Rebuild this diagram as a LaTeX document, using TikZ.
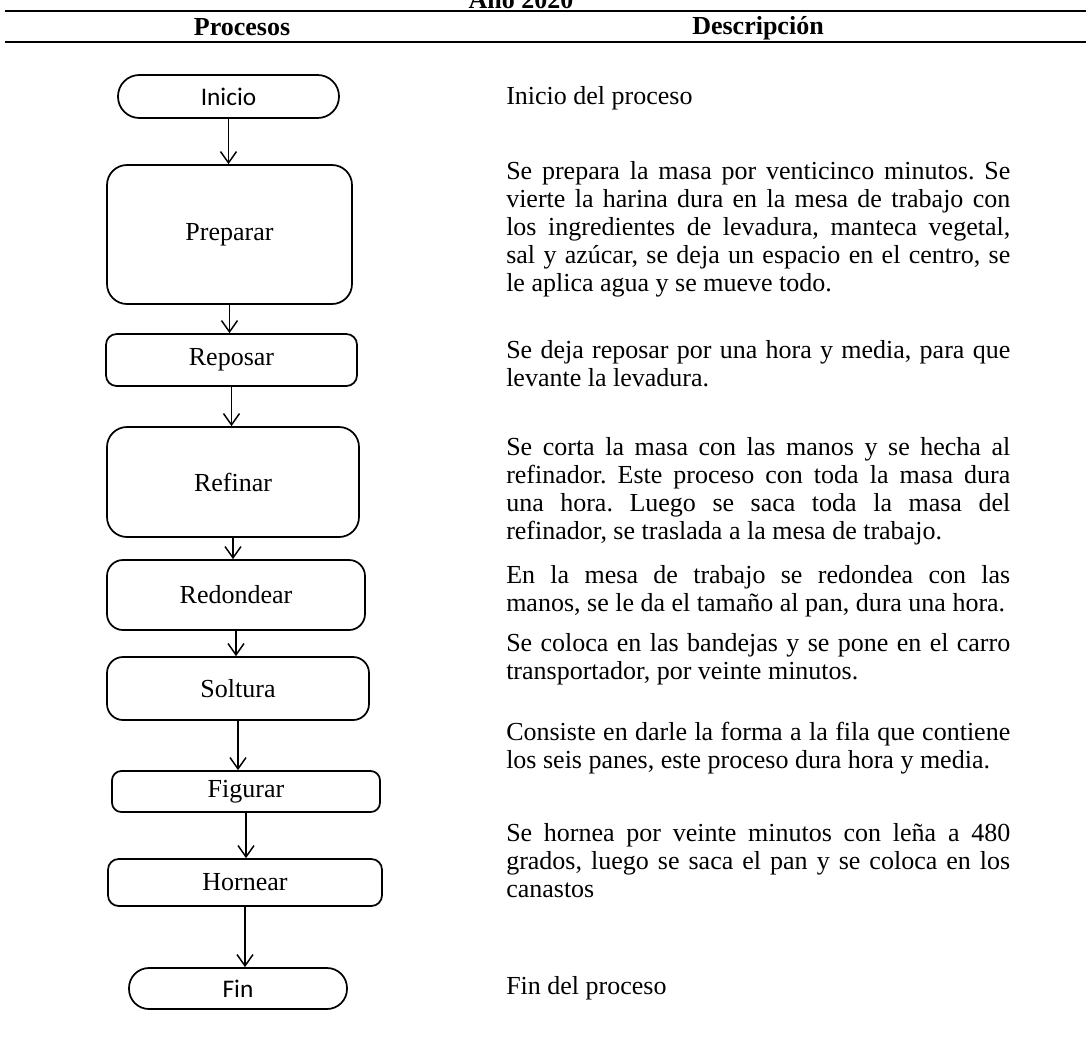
\documentclass[tikz,border=0pt]{standalone}
\usepackage{fontspec}
\setmainfont{Liberation Serif}
\newfontfamily\calibri{Carlito}
\usetikzlibrary{arrows.meta}
\frenchspacing
\newlength{\descw}
\setlength{\descw}{378pt}
\newcommand{\jline}[1]{\hbox to \hsize{#1}}
\newcommand{\fline}[1]{\hbox{#1}}
\newcommand{\desc}[1]{\vtop{\hsize=\descw\baselineskip=21pt\lineskiplimit=-20pt\relax #1}}

\begin{document}
\begin{tikzpicture}[x=0.75pt,y=0.75pt,yscale=-1,xscale=1,
  font=\fontsize{19.5}{21}\selectfont,
  proc/.style={draw, line width=1.3pt, inner sep=0pt, align=center},
  term/.style={proc, font=\calibri\fontsize{19}{21}\selectfont},
  arr/.style={line width=1.1pt, -{Straight Barb[length=8.5pt,width=12pt,line width=1.1pt]}},
  head/.style={inner sep=0pt, font=\bfseries\fontsize{19.5}{21}\selectfont},
  txt/.style={anchor=base west, inner sep=0pt}]
\useasboundingbox (0,0) rectangle (1086,1036);
\clip (0,0) rectangle (1086,1036);

%Header
\node[head, anchor=base] (anio) at (521,8) {Año 2020};
\draw [line width=1.4pt] (5,11) -- (1086,11) ;
\draw [line width=2pt] (5,42) -- (1086,42) ;
\node[head] (hproc) at (242,27) {Procesos};
\node[head] (hdesc) at (758,28) {Descripción};

%Shape: Terminal
\node[term, minimum width=165.75pt, minimum height=32.25pt, rounded corners=16pt] (ini) at (228.5,96.5) {Inicio};
%Shape: Rounded Rectangle
\node[proc, minimum width=183.75pt, minimum height=104.25pt, rounded corners=15pt] (prep) at (229.5,234.5) {Preparar};
%Shape: Rounded Rectangle
\node[proc, minimum width=188.25pt, minimum height=39pt, rounded corners=8pt] (repo) at (231.5,360) {Reposar};
%Shape: Rounded Rectangle
\node[proc, minimum width=189pt, minimum height=82.5pt, rounded corners=15pt] (refi) at (233,482) {Refinar};
%Shape: Rounded Rectangle
\node[proc, minimum width=193.5pt, minimum height=52.5pt, rounded corners=12pt] (redo) at (236,595) {Redondear};
%Shape: Rounded Rectangle
\node[proc, minimum width=196.5pt, minimum height=47.25pt, rounded corners=12pt] (solt) at (238,688.5) {Soltura};
%Shape: Rounded Rectangle
\node[proc, minimum width=201pt, minimum height=30.75pt, rounded corners=7pt] (figu) at (246,791.5) {Figurar};
%Shape: Rounded Rectangle
\node[proc, minimum width=205.5pt, minimum height=35.25pt, rounded corners=8pt] (horn) at (245,882.5) {Hornear};
%Shape: Terminal
\node[term, minimum width=163.5pt, minimum height=30.75pt, rounded corners=15pt] (fin) at (238,988.5) {Fin};

%Straight Lines
\draw[arr] (ini.south) -- (ini.south |- prep.north);
\draw[arr] (prep.south) -- (prep.south |- repo.north);
\draw[arr] (repo.south) -- (repo.south |- refi.north);
\draw[arr] (refi.south) -- (refi.south |- redo.north);
\draw[arr] (redo.south) -- (redo.south |- solt.north);
\draw[arr] (solt.south) -- (solt.south |- figu.north);
\draw[arr] (figu.south) -- (figu.south |- horn.north);
\draw[arr] (horn.south) -- (horn.south |- fin.north);

% Text Node
\node[txt] (dini) at (506,104) {Inicio del proceso};
% Text Node
\node[txt] (dprep) at (506,179) {\desc{%
\jline{Se prepara la masa por venticinco minutos. Se}
\jline{vierte la harina dura en la mesa de trabajo con}
\jline{los ingredientes de levadura, manteca vegetal,}
\jline{sal y azúcar, se deja un espacio en el centro, se}
\fline{le aplica agua y se mueve todo.}}};
% Text Node
\node[txt] (drepo) at (506,358) {\desc{%
\jline{Se deja reposar por una hora y media, para que}
\fline{levante la levadura.}}};
% Text Node
\node[txt] (drefi) at (506,455) {\desc{%
\jline{Se corta la masa con las manos y se hecha al}
\jline{refinador. Este proceso con toda la masa dura}
\jline{una hora. Luego se saca toda la masa del}
\fline{refinador, se traslada a la mesa de trabajo.}}};
% Text Node
\node[txt] (dredo) at (506,583) {\desc{%
\jline{En la mesa de trabajo se redondea con las}
\fline{manos, se le da el tamaño al pan, dura una hora.}}};
% Text Node
\node[txt] (dsolt) at (506,651) {\desc{%
\jline{Se coloca en las bandejas y se pone en el carro}
\fline{transportador, por veinte minutos.}}};
% Text Node
\node[txt] (dfigu) at (506,740) {\desc{%
\jline{Consiste en darle la forma a la fila que contiene}
\fline{los seis panes, este proceso dura hora y media.}}};
% Text Node
\node[txt] (dhorn) at (506,841) {\desc{%
\jline{Se hornea por veinte minutos con leña a 480}
\jline{grados, luego se saca el pan y se coloca en los}
\fline{canastos}}};
% Text Node
\node[txt] (dfin) at (506,994) {Fin del proceso};

\end{tikzpicture}
\end{document}
